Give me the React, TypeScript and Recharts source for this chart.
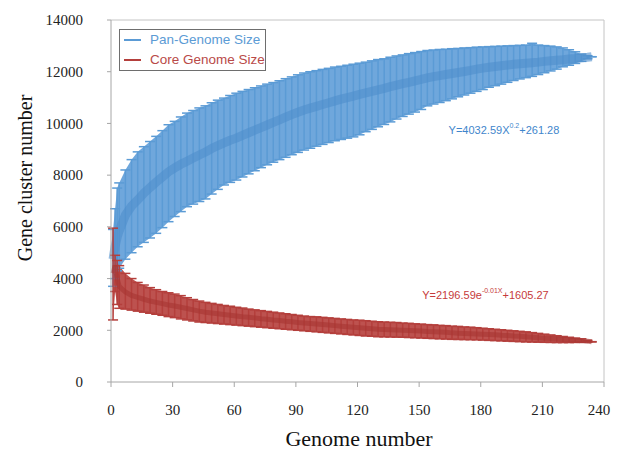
import React from "react";
import {
  ComposedChart,
  XAxis,
  YAxis,
  Line,
  Area,
  ErrorBar,
  ReferenceLine,
  ReferenceDot,
  Legend,
} from "recharts";

const genomes = [
  1, 2, 3, 4, 7, 10, 13, 16, 19, 22,
  25, 28, 31, 34, 37, 40, 43, 46, 49, 52,
  55, 58, 61, 64, 67, 70, 73, 76, 79, 82,
  85, 88, 91, 94, 97, 100, 103, 106, 109, 112,
  115, 118, 121, 124, 127, 130, 133, 136, 139, 142,
  145, 148, 151, 154, 157, 160, 163, 166, 169, 172,
  175, 178, 181, 184, 187, 190, 193, 196, 199, 202,
  205, 208, 211, 214, 217, 220, 223, 226, 229, 232,
  234,
];

const panMean = [
  4750, 5250, 5600, 5850, 6450, 6800, 7040, 7300, 7520, 7730,
  7930, 8130, 8280, 8420, 8540, 8660, 8780, 8890, 9030, 9140,
  9250, 9350, 9430, 9540, 9640, 9740, 9840, 9940, 10040, 10140,
  10240, 10340, 10430, 10520, 10590, 10660, 10730, 10800, 10870, 10940,
  11000, 11060, 11120, 11180, 11240, 11300, 11360, 11420, 11480, 11540,
  11590, 11650, 11700, 11760, 11810, 11850, 11890, 11930, 11970, 12010,
  12050, 12100, 12140, 12170, 12200, 12230, 12260, 12290, 12310, 12330,
  12350, 12370, 12400, 12420, 12440, 12460, 12490, 12510, 12540, 12560,
  12580,
];

const panHigh = [
  5900, 6700, 7500, 7700, 8200, 8600, 8900, 9100, 9300, 9500,
  9720, 9950, 10080, 10250, 10400, 10500, 10600, 10680, 10800, 10900,
  10980, 11080, 11170, 11240, 11310, 11380, 11450, 11520, 11580, 11650,
  11730, 11800, 11880, 11950, 12000, 12040, 12090, 12130, 12180, 12210,
  12250, 12290, 12330, 12370, 12420, 12470, 12500, 12560, 12610, 12650,
  12700, 12740, 12780, 12820, 12840, 12860, 12870, 12890, 12900, 12920,
  12930, 12950, 12960, 12970, 12980, 12990, 13000, 13010, 13020, 13030,
  13100, 13030, 13010, 12990, 12960, 12920, 12850, 12770, 12680, 12620,
  12580,
];

const panLow = [
  3700, 4000, 4300, 4400, 4750, 5000, 5230, 5400, 5570, 5750,
  5970, 6200, 6400, 6590, 6780, 6880, 6980, 7080, 7270, 7450,
  7620, 7720, 7810, 7930, 8050, 8170, 8290, 8400, 8500, 8600,
  8690, 8790, 8880, 8970, 9040, 9120, 9190, 9260, 9330, 9380,
  9430, 9480, 9560, 9680, 9770, 9870, 9960, 10060, 10170, 10270,
  10360, 10440, 10540, 10680, 10750, 10810, 10880, 10950, 11030, 11100,
  11170, 11240, 11310, 11400, 11460, 11520, 11590, 11660, 11720, 11770,
  11820, 11890, 11960, 12030, 12100, 12190, 12250, 12320, 12400, 12500,
  12580,
];

const coreMean = [
  4200, 4500, 4000, 3700, 3480, 3350, 3270, 3200, 3130, 3080,
  3030, 2980, 2940, 2890, 2840, 2790, 2740, 2700, 2670, 2640,
  2610, 2580, 2550, 2520, 2500, 2480, 2450, 2430, 2400, 2380,
  2350, 2330, 2300, 2280, 2260, 2240, 2220, 2200, 2180, 2160,
  2140, 2120, 2100, 2080, 2060, 2040, 2030, 2020, 2010, 2000,
  1990, 1980, 1970, 1950, 1940, 1930, 1920, 1900, 1890, 1880,
  1870, 1860, 1850, 1840, 1830, 1810, 1800, 1780, 1770, 1750,
  1730, 1710, 1690, 1680, 1660, 1640, 1620, 1610, 1600, 1580,
  1555,
];

const coreHigh = [
  5950, 4900, 4700, 4500, 4200, 4000, 3850, 3750, 3650, 3570,
  3500, 3450, 3400, 3340, 3260, 3190, 3130, 3080, 3040, 3000,
  2960, 2930, 2890, 2860, 2820, 2790, 2760, 2730, 2700, 2670,
  2640, 2610, 2580, 2550, 2530, 2520, 2500, 2480, 2460, 2440,
  2420, 2400, 2390, 2370, 2350, 2330, 2320, 2310, 2300, 2280,
  2270, 2250, 2240, 2220, 2210, 2190, 2180, 2160, 2150, 2130,
  2120, 2100, 2080, 2060, 2040, 2020, 2000, 1980, 1960, 1940,
  1910, 1880, 1850, 1820, 1790, 1760, 1730, 1700, 1670, 1610,
  1560,
];

const coreLow = [
  2400, 3500, 3000, 2850, 2820, 2780, 2740, 2700, 2660, 2620,
  2580, 2530, 2490, 2440, 2400, 2360, 2320, 2300, 2280, 2260,
  2240, 2220, 2200, 2180, 2160, 2140, 2120, 2100, 2080, 2060,
  2040, 2020, 2000, 1980, 1960, 1940, 1920, 1900, 1880, 1860,
  1840, 1820, 1800, 1780, 1770, 1750, 1745, 1740, 1735, 1730,
  1720, 1710, 1700, 1690, 1680, 1670, 1660, 1650, 1645, 1640,
  1635, 1630, 1620, 1610, 1600, 1590, 1580, 1570, 1560, 1550,
  1545, 1540, 1535, 1530, 1525, 1525, 1525, 1530, 1535, 1545,
  1550,
];

const xTicks = [0, 30, 60, 90, 120, 150, 180, 210, 240];
const yTicks = [0, 2000, 4000, 6000, 8000, 10000, 12000, 14000];

const seriesNames = ["Pan-Genome Size", "Core Genome Size"];
const panEquation = { main: "Y=4032.59X", sup: "0.2", tail: "+261.28", x: 191.3, y: 9707 };
const coreEquation = { main: "Y=2196.59e", sup: "-0.01X", tail: "+1605.27", x: 182.3, y: 3326 };

const PAN_COLOR = "#5b9bd5";
const CORE_COLOR = "#b43f3c";

const rows = genomes.map((g, i) => ({
  g,
  panMean: panMean[i],
  panBand: [panLow[i], panHigh[i]],
  panErr: [panMean[i] - panLow[i], panHigh[i] - panMean[i]],
  coreMean: coreMean[i],
  coreBand: [coreLow[i], coreHigh[i]],
  coreErr: [coreMean[i] - coreLow[i], coreHigh[i] - coreMean[i]],
}));

const serif = "'Liberation Serif', 'Times New Roman', serif";
const sans = "'Liberation Sans', Arial, sans-serif";

const makeEq = (eq: any, color: string) => (props: any) => {
  const vb = props.viewBox || {};
  const cx = (vb.x || 0) + (vb.width || 0) / 2;
  const cy = (vb.y || 0) + (vb.height || 0) / 2;
  return (
    <text
      x={cx}
      y={cy}
      textAnchor="middle"
      dominantBaseline="middle"
      fill={color}
      fontFamily={sans}
      fontSize={11}
    >
      <tspan>{eq.main}</tspan>
      <tspan dy={-5} fontSize={7}>{eq.sup}</tspan>
      <tspan dy={5}>{eq.tail}</tspan>
    </text>
  );
};

const LegendBox = () => (
  <div
    style={{
      width: 145,
      height: 40,
      border: "1px solid #6e6e6e",
      background: "#fff",
      fontFamily: sans,
      fontSize: 13.5,
      lineHeight: "20px",
      boxSizing: "content-box",
    }}
  >
    {[PAN_COLOR, CORE_COLOR].map((c, i) => (
      <div key={i} style={{ display: "flex", alignItems: "center", height: 20 }}>
        <div style={{ width: 17, height: 2, background: c, marginLeft: 4, marginRight: 9 }} />
        <span style={{ color: i === 0 ? "#5b9bd5" : "#b94a48" }}>{seriesNames[i]}</span>
      </div>
    ))}
  </div>
);

const XTick = (props: any) => {
  const { x, y, payload } = props;
  return (
    <text
      x={x}
      y={y + 13}
      textAnchor="middle"
      fill="#222"
      fontSize={15}
      fontFamily={serif}
    >
      {payload.value}
    </text>
  );
};

export default function App() {
  return (
    <div style={{ width: 603, height: 438, overflow: "visible" }}>
      <style>{`html, body { overflow: hidden; } .recharts-wrapper, .recharts-surface { overflow: visible !important; }`}</style>
      <ComposedChart
        width={603}
        height={438}
        data={rows}
        margin={{ top: 12, right: 7, left: 0, bottom: 0 }}
      >
        <XAxis
          dataKey="g"
          type="number"
          domain={[0, 240]}
          ticks={xTicks}
          height={64}
          tickSize={5}
          tickMargin={15}
          stroke="#a6a6a6"
          tick={<XTick />}
          label={{
            content: () => (
              <text
                x={351}
                y={433}
                textAnchor="middle"
                dominantBaseline="middle"
                fontFamily={serif}
                fontSize={22}
                fill="#111"
              >
                Genome number
              </text>
            ),
          }}
        />
        <YAxis
          type="number"
          domain={[0, 14000]}
          ticks={yTicks}
          width={103}
          tickSize={4}
          tickMargin={24}
          stroke="#a6a6a6"
          tick={{ fill: "#222", fontSize: 15, fontFamily: serif }}
          label={{
            content: () => (
              <text
                x={19}
                y={170}
                transform="rotate(-90, 19, 170)"
                textAnchor="middle"
                dominantBaseline="middle"
                fontFamily={serif}
                fontSize={20}
                fill="#111"
              >
                Gene cluster number
              </text>
            ),
          }}
        />
        <ReferenceLine y={14000} stroke="#c4c4c4" />
        <ReferenceLine x={240} stroke="#c4c4c4" />
        <Area
          dataKey="panBand"
          stroke="none"
          fill="#6fa7dc"
          fillOpacity={1}
          isAnimationActive={false}
          legendType="none"
        />
        <Area
          dataKey="coreBand"
          stroke="none"
          fill="#bd524f"
          fillOpacity={1}
          isAnimationActive={false}
          legendType="none"
        />
        <Line
          dataKey="panMean"
          stroke="#4f8dcc"
          strokeWidth={9}
          strokeOpacity={0.6}
          dot={false}
          isAnimationActive={false}
        >
          <ErrorBar dataKey="panErr" width={5} stroke={PAN_COLOR} strokeWidth={1.5} direction="y" />
        </Line>
        <Line
          dataKey="coreMean"
          stroke="#a63532"
          strokeWidth={5}
          strokeOpacity={0.6}
          dot={false}
          isAnimationActive={false}
        >
          <ErrorBar dataKey="coreErr" width={5} stroke={CORE_COLOR} strokeWidth={1.5} direction="y" />
        </Line>
        <ReferenceDot
          x={panEquation.x}
          y={panEquation.y}
          r={0}
          fill="none"
          stroke="none"
          label={{ content: makeEq(panEquation, "#3f86cc") }}
        />
        <ReferenceDot
          x={coreEquation.x}
          y={coreEquation.y}
          r={0}
          fill="none"
          stroke="none"
          label={{ content: makeEq(coreEquation, "#c63a3a") }}
        />
        <Legend
          layout="horizontal"
          verticalAlign="middle"
          align="center"
          wrapperStyle={{ position: "absolute", left: 111, top: 21, width: 147, height: 42 }}
          content={() => <LegendBox />}
        />
      </ComposedChart>
    </div>
  );
}
